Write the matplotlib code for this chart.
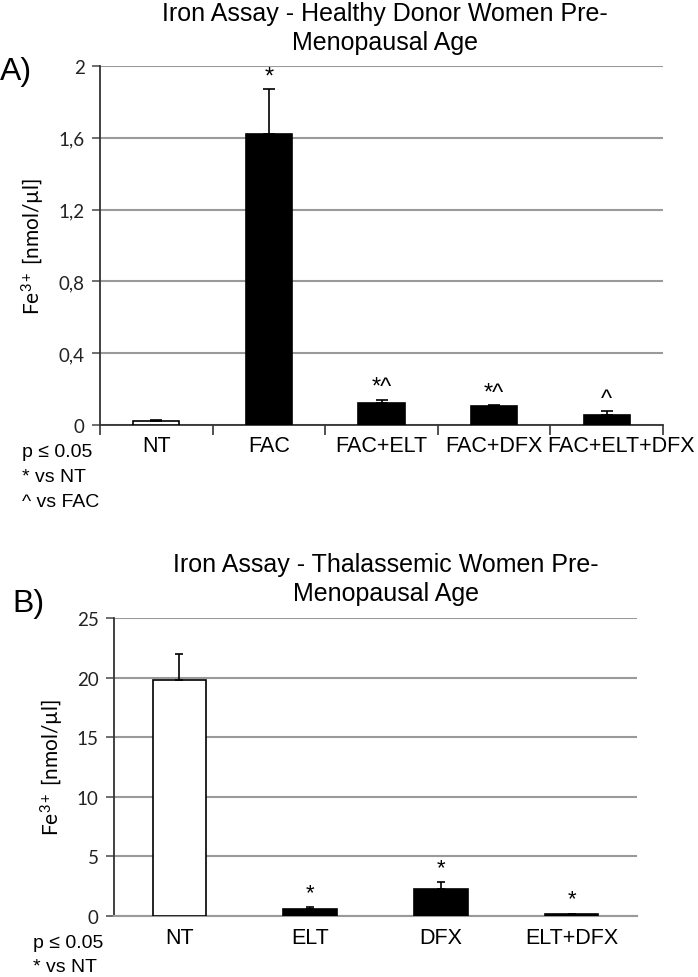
import matplotlib
matplotlib.use("Agg")
import matplotlib.pyplot as plt
import matplotlib.transforms as mtrans
import numpy as np

plt.rcParams['mathtext.fontset'] = 'custom'
plt.rcParams['mathtext.rm'] = 'Lato'
plt.rcParams['mathtext.it'] = 'Lato:italic'

# ---- data: panel A ----
cats_a = ["NT", "FAC", "FAC+ELT", "FAC+DFX", "FAC+ELT+DFX"]
vals_a = [0.02, 1.62, 0.125, 0.106, 0.056]
err_a = [0.007, 0.25, 0.015, 0.006, 0.022]
sig_a = ["", "*", "*^", "*^", "^"]
yticks_a = [0, 0.4, 0.8, 1.2, 1.6, 2.0]
yticklabels_a = ["0", "0,4", "0,8", "1,2", "1,6", "2"]
colors_a = ["white", "black", "black", "black", "black"]

# ---- data: panel B ----
cats_b = ["NT", "ELT", "DFX", "ELT+DFX"]
vals_b = [19.8, 0.55, 2.25, 0.15]
err_b = [2.2, 0.2, 0.6, 0.05]
sig_b = ["", "*", "*", "*"]
yticks_b = [0, 5, 10, 15, 20, 25]
colors_b = ["white", "black", "black", "black"]

W, H = 698, 978
fig = plt.figure(figsize=(W / 100, H / 100), dpi=100)

def px_axes(left, right, top, bottom):
    return fig.add_axes([left / W, 1 - bottom / H, (right - left) / W, (bottom - top) / H])

SANS = "Liberation Sans"
TICKF = "Lato"
GRID = "#9a9a9a"

def style_axes(ax, yticks, ylabels, ymax, n):
    ax.set_ylim(0, ymax)
    ax.set_xlim(-0.5, n - 0.5)
    ax.set_yticks(yticks)
    ax.set_yticklabels(ylabels, fontfamily=TICKF, fontsize=13.5, color="#222222")
    ax.yaxis.grid(True, color=GRID, linewidth=1.5)
    ax.set_axisbelow(True)
    for s in ["top", "right"]:
        ax.spines[s].set_visible(False)
    ax.spines["left"].set_color("#333333")
    ax.spines["left"].set_linewidth(1.3)
    ax.tick_params(axis="y", direction="out", length=6, width=1.2, color="#555555", pad=5)
    ax.set_ylabel("Fe$^{\\mathrm{3+}}$ [nmol/µl]", fontfamily=TICKF, fontsize=15, labelpad=8)

# ---------- Panel A ----------
axA = px_axes(100, 663, 67, 426)
xa = np.arange(len(cats_a))
axA.bar(xa, vals_a, width=0.41, color=colors_a, edgecolor="black", linewidth=1.2, zorder=3)
axA.errorbar(xa, vals_a, yerr=[np.zeros(len(err_a)), err_a], fmt="none", ecolor="black",
             elinewidth=1.2, capsize=4.3, capthick=1.2, zorder=4)
style_axes(axA, yticks_a, yticklabels_a, 2.0, len(cats_a))
axA.spines["bottom"].set_color("#333333")
axA.spines["bottom"].set_linewidth(1.3)
axA.set_xticks(xa)
axA.set_xticklabels(cats_a, fontfamily=SANS, fontsize=15.5)
axA.tick_params(axis="x", which="major", length=0, pad=7)
axA.set_xticks(np.arange(len(cats_a) + 1) - 0.5, minor=True)
axA.tick_params(axis="x", which="minor", direction="out", length=7, width=1.2, color="#333333")
# the last, wide label sits slightly right of its category centre
last = axA.get_xticklabels()[-1]
last.set_transform(last.get_transform() + mtrans.ScaledTranslation(14 / 100, 0, fig.dpi_scale_trans))
for x, v, e, s in zip(xa, vals_a, err_a, sig_a):
    if s:
        axA.annotate(s, (x, v + e), xytext=(0, 1), textcoords="offset points",
                     ha="center", va="bottom", fontfamily=SANS, fontsize=17)

fig.text(385 / W, 1 - 14 / H, "Iron Assay - Healthy Donor Women Pre-", ha="center", va="center",
         fontfamily=SANS, fontsize=18)
fig.text(385 / W, 1 - 43 / H, "Menopausal Age", ha="center", va="center",
         fontfamily=SANS, fontsize=18)
fig.text(0 / W, 1 - 72 / H, "A)", ha="left", va="center", fontfamily=SANS, fontsize=23)
fig.text(22 / W, 1 - 453 / H, "p ≤ 0.05", ha="left", va="center", fontfamily=SANS, fontsize=14)
fig.text(22 / W, 1 - 478 / H, "* vs NT", ha="left", va="center", fontfamily=SANS, fontsize=14)
fig.text(22 / W, 1 - 503 / H, "^ vs FAC", ha="left", va="center", fontfamily=SANS, fontsize=14)

# ---------- Panel B ----------
axB = px_axes(114, 637, 619, 917)
xb = np.arange(len(cats_b))
axB.bar(xb, vals_b, width=0.41, color=colors_b, edgecolor="black", linewidth=1.2, zorder=3)
axB.errorbar(xb, vals_b, yerr=[np.zeros(len(err_b)), err_b], fmt="none", ecolor="black",
             elinewidth=1.2, capsize=3.2, capthick=1.2, zorder=4)
style_axes(axB, yticks_b, [str(t) for t in yticks_b], 25, len(cats_b))
axB.spines["bottom"].set_color(GRID)
axB.spines["bottom"].set_linewidth(1.5)
axB.set_xticks(xb)
axB.set_xticklabels(cats_b, fontfamily=SANS, fontsize=15.5)
axB.tick_params(axis="x", length=0, pad=8)
for x, v, e, s in zip(xb, vals_b, err_b, sig_b):
    if s:
        axB.annotate(s, (x, v + e), xytext=(0, 3), textcoords="offset points",
                     ha="center", va="bottom", fontfamily=SANS, fontsize=16)

fig.text(386 / W, 1 - 565 / H, "Iron Assay - Thalassemic Women Pre-", ha="center", va="center",
         fontfamily=SANS, fontsize=18)
fig.text(386 / W, 1 - 594 / H, "Menopausal Age", ha="center", va="center",
         fontfamily=SANS, fontsize=18)
fig.text(12 / W, 1 - 604 / H, "B)", ha="left", va="center", fontfamily=SANS, fontsize=23)
fig.text(33 / W, 1 - 944 / H, "p ≤ 0.05", ha="left", va="center", fontfamily=SANS, fontsize=14)
fig.text(33 / W, 1 - 968 / H, "* vs NT", ha="left", va="center", fontfamily=SANS, fontsize=14)

fig.savefig("out.png", dpi=100)
